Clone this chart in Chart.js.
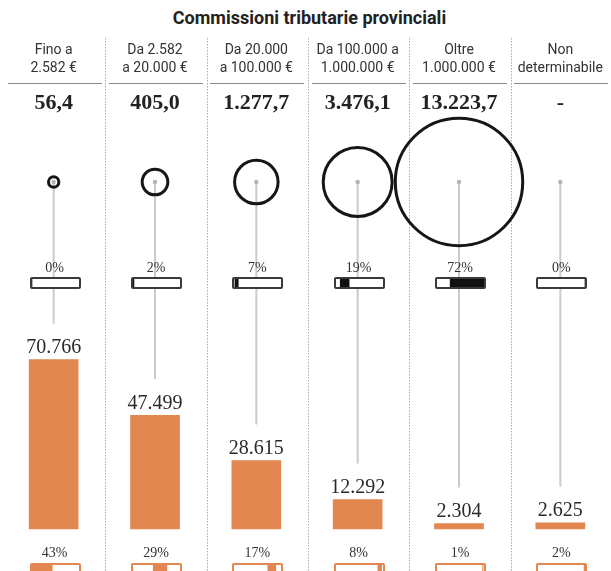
<!DOCTYPE html>
<html>
<head>
<meta charset="utf-8">
<script src="https://cdn.jsdelivr.net/npm/chart.js@4.4.1/dist/chart.umd.min.js"></script>
<style>
  body { margin: 0; background: #fff; }
  #wrap { position: relative; width: 611px; height: 571px; overflow: hidden; font-family: Roboto, sans-serif; }
  #main { position: absolute; left: 0; top: 0; }
  .title { position: absolute; top: 7px; left: 8px; width: 603px; text-align: center; font-weight: 700; font-size: 18px; line-height: 22px; color: #222; }
  .head { position: absolute; top: 40px; width: 100px; text-align: center; font-size: 14px; line-height: 18px; color: #333; }
  .rule { position: absolute; top: 83px; width: 94px; border-top: 1.5px solid #8a8a8a; }
  .val { position: absolute; top: 89px; width: 100px; text-align: center; font: bold 22px/26px "Liberation Serif", serif; color: #222; }
  .pct { position: absolute; width: 60px; text-align: center; font: 14px/16px "Liberation Serif", serif; color: #333; }
  .box { position: absolute; width: 51px; height: 12px; box-sizing: border-box; border-radius: 2px; background: #fff; }
  .box canvas { display: block; }
</style>
</head>
<body>
<div id="wrap">
  <div class="title">Commissioni tributarie provinciali</div>
  <canvas id="main" width="611" height="571"></canvas>
</div>
<script>
const categories = [
  ['Fino a', '2.582 €'],
  ['Da 2.582', 'a 20.000 €'],
  ['Da 20.000', 'a 100.000 €'],
  ['Da 100.000 a', '1.000.000 €'],
  ['Oltre', '1.000.000 €'],
  ['Non', 'determinabile']
];
// valore della lite (milioni di euro), null = non determinabile
const valori = [56.4, 405.0, 1277.7, 3476.1, 13223.7, null];
const quoteValori = [0, 2, 7, 19, 72, 0];
// numero di ricorsi
const ricorsi = [70766, 47499, 28615, 12292, 2304, 2625];
const quoteRicorsi = [43, 29, 17, 8, 1, 2];

const ORANGE = '#e1874f';
const fmtInt = v => String(v).replace(/\B(?=(\d{3})+(?!\d))/g, '.');
const fmtDec = v => v == null ? '-' : fmtInt(Math.floor(v)) + ',' + v.toFixed(1).split('.')[1];
const cumBefore = arr => arr.map((_, i) => arr.slice(0, i).reduce((a, b) => a + b, 0));

const wrap = document.getElementById('wrap');

const guides = {
  id: 'guides',
  beforeDatasetsDraw(chart) {
    const ctx = chart.ctx, x = chart.scales.x;
    const cy = chart.scales.yCircle.getPixelForValue(0);
    const bars = chart.getDatasetMeta(1).data;
    ctx.save();
    // separatori tratteggiati
    ctx.strokeStyle = '#a9a9a9';
    ctx.lineWidth = 1;
    ctx.setLineDash([1.5, 1.5]);
    for (let i = 1; i < categories.length; i++) {
      const sx = Math.round((x.getPixelForValue(i - 1) + x.getPixelForValue(i)) / 2) + 1.5;
      ctx.beginPath(); ctx.moveTo(sx, 38); ctx.lineTo(sx, chart.height); ctx.stroke();
    }
    ctx.setLineDash([]);
    // aste grigie dal cerchio alla barra
    ctx.strokeStyle = '#cbcbc7';
    ctx.lineWidth = 2;
    bars.forEach(b => {
      ctx.beginPath(); ctx.moveTo(b.x, cy); ctx.lineTo(b.x, b.y - 36); ctx.stroke();
      ctx.fillStyle = '#b4b4b0';
      ctx.beginPath(); ctx.arc(b.x, cy, 2.2, 0, Math.PI * 2); ctx.fill();
    });
    ctx.restore();
  },
  afterDatasetsDraw(chart) {
    const ctx = chart.ctx;
    ctx.save();
    ctx.font = '20px "Liberation Serif"';
    ctx.fillStyle = '#2a2a2a';
    ctx.textAlign = 'center';
    chart.getDatasetMeta(1).data.forEach((b, i) => {
      ctx.fillText(fmtInt(ricorsi[i]), b.x, b.y - 6.5);
    });
    ctx.restore();
  }
};

const bubbles = [];
valori.forEach((v, i) => {
  if (v != null) bubbles.push({ x: i, y: 0, r: 0.81 * Math.pow(v, 0.46) });
});

const chart = new Chart(document.getElementById('main'), {
  type: 'bar',
  data: {
    labels: categories,
    datasets: [
      {
        type: 'bubble',
        yAxisID: 'yCircle',
        data: bubbles,
        borderColor: '#161616',
        borderWidth: 3,
        backgroundColor: 'rgba(0,0,0,0)',
        clip: false
      },
      {
        yAxisID: 'yBar',
        data: ricorsi,
        backgroundColor: ORANGE,
        barThickness: 49
      }
    ]
  },
  options: {
    responsive: false,
    animation: false,
    events: [],
    layout: { autoPadding: false, padding: { left: 3, right: 0, top: 0, bottom: 0 } },
    plugins: { legend: { display: false }, tooltip: { enabled: false } },
    scales: {
      x: { display: false },
      yBar: { display: false, min: -(571 - 529) * 418, max: 529 * 418 },
      yCircle: { display: false, min: 182 - 571, max: 182 }
    }
  },
  plugins: [guides]
});

function pctBox(cx, top, before, pct, color, edge) {
  const div = document.createElement('div');
  div.className = 'box';
  div.style.left = (cx - 25.5) + 'px';
  div.style.top = top + 'px';
  div.style.border = '2px solid ' + edge;
  const c = document.createElement('canvas');
  c.width = 47; c.height = 8;
  div.appendChild(c);
  wrap.appendChild(div);
  new Chart(c, {
    type: 'bar',
    data: {
      labels: [''],
      datasets: [
        { data: [before], backgroundColor: 'rgba(0,0,0,0)' },
        { data: [pct], backgroundColor: color },
        { data: [100 - before - pct], backgroundColor: 'rgba(0,0,0,0)' }
      ]
    },
    options: {
      indexAxis: 'y',
      responsive: false,
      animation: false,
      events: [],
      layout: { autoPadding: false, padding: 0 },
      plugins: { legend: { display: false }, tooltip: { enabled: false } },
      datasets: { bar: { barPercentage: 1, categoryPercentage: 1, borderWidth: 0 } },
      scales: {
        x: { stacked: true, display: false, min: 0, max: 100 },
        y: { stacked: true, display: false }
      }
    }
  });
}

function addText(cls, html, left, top) {
  const d = document.createElement('div');
  d.className = cls;
  d.innerHTML = html;
  d.style.left = left + 'px';
  if (top != null) d.style.top = top + 'px';
  wrap.appendChild(d);
}

const cumV = cumBefore(quoteValori);
const cumR = cumBefore(quoteRicorsi);
categories.forEach((lines, i) => {
  const cx = chart.scales.x.getPixelForValue(i);
  addText('head', lines.join('<br>'), cx - 50);
  addText('rule', '', cx - 46);
  addText('val', fmtDec(valori[i]), cx - 50);
  addText('pct', quoteValori[i] + '%', cx - 29, 260);
  pctBox(cx + 1.5, 277, cumV[i], quoteValori[i], '#111', '#3a3a3a');
  addText('pct', quoteRicorsi[i] + '%', cx - 29, 545);
  pctBox(cx + 1.5, 563, cumR[i], quoteRicorsi[i], ORANGE, ORANGE);
});
</script>
</body>
</html>
